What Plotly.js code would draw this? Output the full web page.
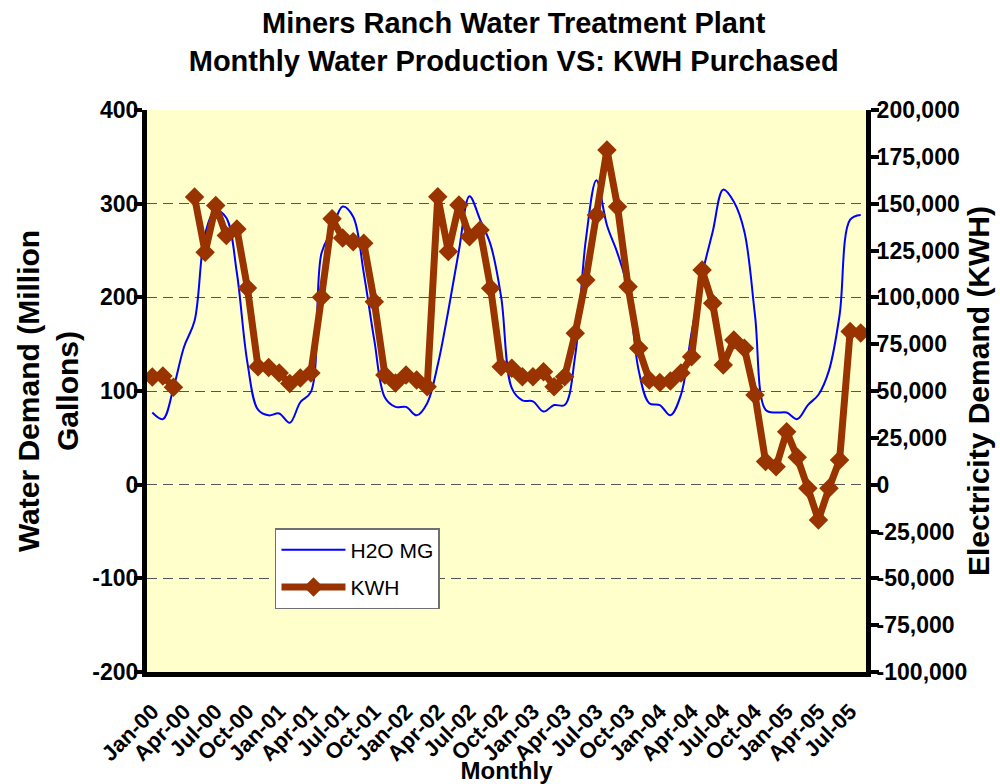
<!DOCTYPE html>
<html>
<head>
<meta charset="utf-8">
<script src="https://cdn.plot.ly/plotly-3.0.1.min.js"></script>
<style>html,body{margin:0;padding:0;background:#fff;}#chart{width:1000px;height:784px;}</style>
</head>
<body>
<div id="chart"></div>
<script>
// Monthly categories Jan-00 .. Aug-05
var months = ["Jan-00","Feb-00","Mar-00","Apr-00","May-00","Jun-00","Jul-00","Aug-00","Sep-00","Oct-00","Nov-00","Dec-00",
  "Jan-01","Feb-01","Mar-01","Apr-01","May-01","Jun-01","Jul-01","Aug-01","Sep-01","Oct-01","Nov-01","Dec-01",
  "Jan-02","Feb-02","Mar-02","Apr-02","May-02","Jun-02","Jul-02","Aug-02","Sep-02","Oct-02","Nov-02","Dec-02",
  "Jan-03","Feb-03","Mar-03","Apr-03","May-03","Jun-03","Jul-03","Aug-03","Sep-03","Oct-03","Nov-03","Dec-03",
  "Jan-04","Feb-04","Mar-04","Apr-04","May-04","Jun-04","Jul-04","Aug-04","Sep-04","Oct-04","Nov-04","Dec-04",
  "Jan-05","Feb-05","Mar-05","Apr-05","May-05","Jun-05","Jul-05","Aug-05"];

// Water production, million gallons (left axis)
var h2oMG = [77,70,103,147,175,268,293,285,226,130,80,74,
  76,66,88,99,247,272,297,286,226,154,93,83,
  83,74,87,128,186,250,308,283,256,200,103,90,
  89,78,85,85,138,261,325,277,247,208,122,87,
  85,74,96,162,224,270,315,302,270,181,80,77,
  77,70,85,96,122,181,283,288];

// Electricity purchased, KWH (right axis)
var kwh = [57500,58000,52000,null,153500,124000,149000,133000,136500,105000,63000,62500,
  59600,54000,57000,59600,100000,142000,131700,129700,128900,97700,58500,54300,
  58600,55900,52300,153700,124400,149300,132400,135900,104800,63000,62100,57600,
  57600,60300,52300,57600,80800,109300,144000,178700,148400,105700,72800,55900,
  54600,55400,59600,68300,114600,96800,63900,77200,72800,47900,12300,9600,
  28300,14600,-1900,-18800,-1900,13200,81700,81000];

// Tick labels
var xTickLabels = ["Jan-00","Apr-00","Jul-00","Oct-00","Jan-01","Apr-01","Jul-01","Oct-01",
  "Jan-02","Apr-02","Jul-02","Oct-02","Jan-03","Apr-03","Jul-03","Oct-03",
  "Jan-04","Apr-04","Jul-04","Oct-04","Jan-05","Apr-05","Jul-05"];
var leftTickVals = [-200,-100,0,100,200,300,400];
var leftTickText = ["-200","-100","0","100","200","300","400"];
var rightTickVals = [-100000,-75000,-50000,-25000,0,25000,50000,75000,100000,125000,150000,175000,200000];
var rightTickText = ["-100,000","-75,000","-50,000","-25,000","0","25,000","50,000","75,000","100,000","125,000","150,000","175,000","200,000"];

var FONT = "Liberation Sans, Arial, sans-serif";

var traces = [
  {
    x: months, y: h2oMG, name: "H2O MG", type: "scatter", mode: "lines",
    line: {color: "#0000FF", width: 2, shape: "spline", smoothing: 1},
    xaxis: "x", yaxis: "y", legendgroup: "a"
  },
  {
    x: months, y: kwh, name: "KWH", type: "scatter", mode: "lines+markers",
    line: {color: "#993300", width: 7},
    marker: {symbol: "diamond", size: 15, color: "#993300"},
    connectgaps: false,
    xaxis: "x", yaxis: "y2", legendgroup: "b"
  }
];

var tickFont = {family: FONT, size: 23, color: "#000", weight: 700};

var layout = {
  width: 1000, height: 784,
  margin: {l: 147, r: 134, t: 110, b: 112, pad: 0},
  paper_bgcolor: "#FFFFFF",
  plot_bgcolor: "#FFFFCC",
  showlegend: true,
  title: {
    text: "Miners Ranch Water Treatment Plant<br>Monthly Water Production VS: KWH Purchased",
    font: {family: FONT, size: 29, color: "#000", weight: 700},
    x: 0.51, xanchor: "center", xref: "paper",
    y: 0.958, yanchor: "top", yref: "container"
  },
  legend: {
    x: 0.178, y: 0.256, xanchor: "left", yanchor: "top",
    bgcolor: "#FFFFFF", bordercolor: "#707070", borderwidth: 1.5,
    font: {family: FONT, size: 21, color: "#000"},
    traceorder: "grouped", tracegroupgap: 7, itemwidth: 64
  },
  xaxis: {
    type: "category", range: [-0.5, 67.5],
    tickmode: "array", tickvals: xTickLabels, ticktext: xTickLabels,
    tickangle: -45, tickfont: {family: FONT, size: 22, color: "#000", weight: 700},
    ticks: "outside", ticklen: 13, tickcolor: "rgba(0,0,0,0)",
    showline: true, linecolor: "#000", linewidth: 5,
    showgrid: false, zeroline: false,
    title: {text: "Monthly", font: {family: FONT, size: 24, color: "#000", weight: 700}, standoff: 2}
  },
  xaxis2: {
    overlaying: "x", anchor: "y", side: "bottom", range: [-0.5, 67.5],
    tickmode: "linear", tick0: -0.5, dtick: 1,
    ticks: "outside", ticklen: 8, tickwidth: 3, tickcolor: "#000",
    showticklabels: false, showline: false, showgrid: false, zeroline: false
  },
  xaxis3: {
    overlaying: "x", anchor: "y", side: "bottom", range: [-0.5, 67.5],
    tickmode: "linear", tick0: -0.5, dtick: 1,
    ticks: "inside", ticklen: 8, tickwidth: 3, tickcolor: "#000",
    showticklabels: false, showline: false, showgrid: false, zeroline: false
  },
  xaxis4: {
    overlaying: "x", anchor: "y", side: "top", range: [-0.5, 67.5],
    showline: true, linecolor: "#888888", linewidth: 2,
    ticks: "", showticklabels: false, showgrid: false, zeroline: false
  },
  yaxis: {
    range: [-200, 400], tickmode: "array", tickvals: leftTickVals, ticktext: leftTickText,
    tickfont: tickFont, ticks: "outside", ticklen: 8, tickwidth: 4, tickcolor: "#000",
    ticklabelstandoff: -9,
    showline: true, linecolor: "#000", linewidth: 5,
    showgrid: true, gridcolor: "#555555", gridwidth: 1, griddash: "10px,6px",
    zeroline: false,
    title: {text: "Water Demand (Million<br>Gallons)", font: {family: FONT, size: 30, color: "#000", weight: 700}, standoff: 6}
  },
  yaxis3: {
    overlaying: "y", anchor: "x", side: "left", range: [-200, 400],
    tickmode: "linear", tick0: -200, dtick: 100,
    ticks: "inside", ticklen: 8, tickwidth: 4, tickcolor: "#000",
    showticklabels: false, showline: false, showgrid: false, zeroline: false
  },
  yaxis2: {
    overlaying: "y", side: "right", anchor: "x", range: [-100000, 200000],
    tickmode: "array", tickvals: rightTickVals, ticktext: rightTickText,
    tickfont: tickFont, ticks: "outside", ticklen: 8, tickwidth: 4, tickcolor: "#000",
    ticklabelstandoff: -7,
    showline: true, linecolor: "#000", linewidth: 5,
    showgrid: false, zeroline: false,
    title: {text: "Electricity Demand (KWH)", font: {family: FONT, size: 30, color: "#000", weight: 700}, standoff: 3}
  },
  yaxis4: {
    overlaying: "y", side: "right", anchor: "x", range: [-100000, 200000],
    tickmode: "linear", tick0: -100000, dtick: 25000,
    ticks: "inside", ticklen: 8, tickwidth: 4, tickcolor: "#000",
    showticklabels: false, showline: false, showgrid: false, zeroline: false
  }
};

Plotly.newPlot("chart", traces, layout, {displayModeBar: false, staticPlot: true});
</script>
</body>
</html>
